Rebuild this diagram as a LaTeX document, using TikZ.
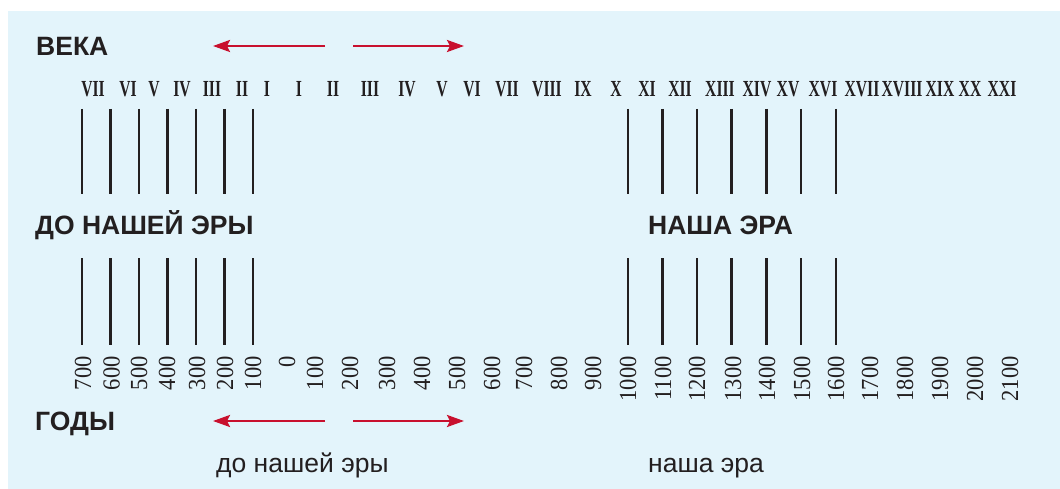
\documentclass[tikz,border=0pt]{standalone}
\usepackage{fontspec}
\setmainfont{Liberation Serif}
\setsansfont{Liberation Sans}
\newfontfamily\romfont[FakeStretch=0.68]{Liberation Serif}
\newfontfamily\yearfont[FakeStretch=0.92]{Liberation Serif}
\usetikzlibrary{arrows.meta}
\definecolor{bgblue}{HTML}{E3F4FB}
\definecolor{arrowred}{HTML}{C8102E}
\definecolor{ink}{HTML}{231F20}
\tikzset{
    every node/.style={inner sep=0pt, text=ink},
    head/.style={anchor=base west, font=\sffamily\bfseries\fontsize{26.5}{26.5}\selectfont},
    era/.style={anchor=base west, font=\sffamily\fontsize{26.5}{26.5}\selectfont},
    century/.style={anchor=base, font=\romfont\bfseries\fontsize{23}{23}\selectfont},
    year/.style={anchor=east, rotate=90, font=\yearfont\fontsize{24.5}{24.5}\selectfont},
    tick/.style={draw=ink, line width=2.6pt},
    timearrow/.style={draw=arrowred, line width=2.4pt,
    	-{Stealth[length=17pt, width=12pt, inset=3pt]}}
}

\begin{document}
\begin{tikzpicture}[x=1pt, y=-1pt]
	\useasboundingbox (0,0) rectangle (1060,489);
	\fill[bgblue] (8,11) rectangle (1060,489);

	\node (veka) [head] at (36,56) {ВЕКА};
	\node (dne) [head] at (35,234) {ДО НАШЕЙ ЭРЫ};
	\node (ne) [head] at (648,234) {НАША ЭРА};
	\node (gody) [head] at (35,430) {ГОДЫ};
	\node (dnelow) [era] at (216,472) {до нашей эры};
	\node (nelow) [era] at (648,472) {наша эра};

	% века
	\node (c7) [century] at (93,96.7) {VII};   \node (c6) [century] at (128,96.7) {VI};
	\node (c5) [century] at (154,96.7) {V};    \node (c4) [century] at (182,96.7) {IV};
	\node (c3) [century] at (212,96.7) {III};  \node (c2) [century] at (242,96.7) {II};
	\node (c1) [century] at (267,96.7) {I};
	\node (a1) [century] at (299,96.7) {I};    \node (a2) [century] at (333,96.7) {II};
	\node (a3) [century] at (370,96.7) {III};  \node (a4) [century] at (407,96.7) {IV};
	\node (a5) [century] at (442,96.7) {V};    \node (a6) [century] at (472,96.7) {VI};
	\node (a7) [century] at (507,96.7) {VII};  \node (a8) [century] at (547,96.7) {VIII};
	\node (a9) [century] at (583,96.7) {IX};   \node (a10) [century] at (616,96.7) {X};
	\node (a11) [century] at (647,96.7) {XI};  \node (a12) [century] at (680,96.7) {XII};
	\node (a13) [century] at (720,96.7) {XIII};\node (a14) [century] at (757,96.7) {XIV};
	\node (a15) [century] at (788,96.7) {XV};  \node (a16) [century] at (823,96.7) {XVI};
	\node (a17) [century] at (862,96.7) {XVII};\node (a18) [century] at (902,96.7) {XVIII};
	\node (a19) [century] at (940,96.7) {XIX}; \node (a20) [century] at (970,96.7) {XX};
	\node (a21) [century] at (1002,96.7) {XXI};

	% годы
	\node (b700) [year] at (83,356) {700};   \node (b600) [year] at (111.5,356) {600};
	\node (b500) [year] at (139,356) {500};  \node (b400) [year] at (167,356) {400};
	\node (b300) [year] at (197,356) {300};  \node (b200) [year] at (225,356) {200};
	\node (b100) [year] at (253,356) {100};  \node (y0) [year] at (287,356) {0};
	\node (y100) [year] at (315,356) {100};  \node (y200) [year] at (350,356) {200};
	\node (y300) [year] at (387,356) {300};  \node (y400) [year] at (422,356) {400};
	\node (y500) [year] at (457,356) {500};  \node (y600) [year] at (492,356) {600};
	\node (y700) [year] at (524,356) {700};  \node (y800) [year] at (559,356) {800};
	\node (y900) [year] at (593,356) {900};  \node (y1000) [year] at (628,356) {1000};
	\node (y1100) [year] at (663,356) {1100};\node (y1200) [year] at (697,356) {1200};
	\node (y1300) [year] at (733,356) {1300};\node (y1400) [year] at (767,356) {1400};
	\node (y1500) [year] at (802,356) {1500};\node (y1600) [year] at (836,356) {1600};
	\node (y1700) [year] at (870,356) {1700};\node (y1800) [year] at (905,356) {1800};
	\node (y1900) [year] at (940,356) {1900};\node (y2000) [year] at (975,356) {2000};
	\node (y2100) [year] at (1010,356) {2100};

	% штрихи
	\draw[tick] (82,109) -- (82,194);  \draw[tick] (82,258) -- (82,345);
	\draw[tick] (110.5,109) -- (110.5,194);  \draw[tick] (110.5,258) -- (110.5,345);
	\draw[tick] (139,109) -- (139,194);  \draw[tick] (139,258) -- (139,345);
	\draw[tick] (167.5,109) -- (167.5,194);  \draw[tick] (167.5,258) -- (167.5,345);
	\draw[tick] (196,109) -- (196,194);  \draw[tick] (196,258) -- (196,345);
	\draw[tick] (224.5,109) -- (224.5,194);  \draw[tick] (224.5,258) -- (224.5,345);
	\draw[tick] (253,109) -- (253,194);  \draw[tick] (253,258) -- (253,345);
	\draw[tick] (628,109) -- (628,194);  \draw[tick] (628,258) -- (628,345);
	\draw[tick] (662.5,109) -- (662.5,194);  \draw[tick] (662.5,258) -- (662.5,345);
	\draw[tick] (697,109) -- (697,194);  \draw[tick] (697,258) -- (697,345);
	\draw[tick] (731.5,109) -- (731.5,194);  \draw[tick] (731.5,258) -- (731.5,345);
	\draw[tick] (766.5,109) -- (766.5,194);  \draw[tick] (766.5,258) -- (766.5,345);
	\draw[tick] (801,109) -- (801,194);  \draw[tick] (801,258) -- (801,345);
	\draw[tick] (836,109) -- (836,194);  \draw[tick] (836,258) -- (836,345);

	% стрелки
	\coordinate (tl0) at (325,46); \coordinate (tl1) at (213,46);
	\coordinate (tr0) at (353,46); \coordinate (tr1) at (464,46);
	\coordinate (bl0) at (325,421); \coordinate (bl1) at (213,421);
	\coordinate (br0) at (353,421); \coordinate (br1) at (464,421);
	\draw[timearrow] (tl0) -- (tl1); \draw[timearrow] (tr0) -- (tr1);
	\draw[timearrow] (bl0) -- (bl1); \draw[timearrow] (br0) -- (br1);
\end{tikzpicture}
\end{document}
